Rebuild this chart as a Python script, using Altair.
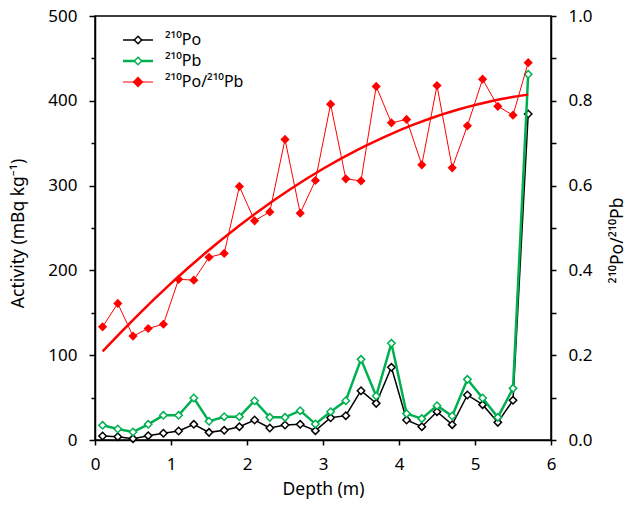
import altair as alt
import pandas as pd

depth = [0.1, 0.3, 0.5, 0.7, 0.9, 1.1, 1.3, 1.5, 1.7, 1.9, 2.1, 2.3, 2.5, 2.7, 2.9,
         3.1, 3.3, 3.5, 3.7, 3.9, 4.1, 4.3, 4.5, 4.7, 4.9, 5.1, 5.3, 5.5, 5.7]
po = [4.7, 3.9, 1.6, 5.1, 7.9, 10.6, 18.5, 9.0, 11.4, 15.7, 23.6, 14.2, 17.7, 18.5, 11.0,
      26.3, 28.7, 58.1, 43.2, 85.7, 23.6, 15.7, 33.4, 18.1, 53.1, 41.7, 20.8, 46.8, 384.4]
pb = [17.3, 13.0, 9.4, 18.5, 29.1, 29.1, 49.5, 22.0, 27.5, 27.5, 46.3, 26.7, 26.7, 34.6, 18.9,
      33.4, 46.3, 95.1, 51.9, 114.0, 31.1, 25.2, 40.5, 28.3, 71.5, 49.5, 26.7, 60.9, 431.2]
ratio = [0.267, 0.322, 0.245, 0.263, 0.273, 0.379, 0.377, 0.431, 0.440, 0.598, 0.517, 0.538,
         0.709, 0.535, 0.612, 0.792, 0.616, 0.611, 0.834, 0.748, 0.756, 0.649, 0.836, 0.642,
         0.741, 0.851, 0.787, 0.766, 0.890]

legend_labels = ["\u00b2\u00b9\u2070Po", "\u00b2\u00b9\u2070Pb", "\u00b2\u00b9\u2070Po/\u00b2\u00b9\u2070Pb"]
x_ticks = [0, 1, 2, 3, 4, 5, 6]
left_ticks = [0, 50, 100, 150, 200, 250, 300, 350, 400, 450, 500]
right_ticks = [0.0, 0.1, 0.2, 0.3, 0.4, 0.5, 0.6, 0.7, 0.8, 0.9, 1.0]

FONT = "Noto Sans"
BLACK = "#000000"
GREEN = "#00B050"
RED = "#FF0000"

df = pd.DataFrame({"depth": depth, "po": po, "pb": pb, "ratio": ratio})
base = alt.Chart(df)

x_enc = alt.X("depth:Q",
              scale=alt.Scale(domain=[0, 6], nice=False),
              axis=alt.Axis(values=x_ticks, title="Depth (m)", tickSize=5, labelFlush=False,
                            labelPadding=11, titlePadding=8))

left_axis = alt.Axis(values=left_ticks, orient="left",
                     title="Activity  (mBq kg\u207b\u00b9)",
                     labelExpr="datum.value % 100 === 0 ? datum.label : ''",
                     tickSize={"condition": {"test": "datum.value % 100 === 0", "value": 6}, "value": 4},
                     labelPadding=12, titleX=-77, titleY=217, titleAngle=-90,
                     titleAlign="center", titleBaseline="middle")
left_scale = alt.Scale(domain=[0, 500], nice=False)

right_axis = alt.Axis(values=right_ticks, orient="right",
                      title="\u00b2\u00b9\u2070Po/\u00b2\u00b9\u2070Pb",
                      labelExpr="round(datum.value*10) % 2 === 0 ? format(datum.value, '.1f') : ''",
                      tickSize=5, labelPadding=12, titleX=66, titleY=224, titleAngle=-90,
                      titleAlign="center", titleBaseline="middle")
right_scale = alt.Scale(domain=[0, 1], nice=False)

po_line = base.mark_line(color=BLACK, strokeWidth=1.5).encode(
    x=x_enc, y=alt.Y("po:Q", scale=left_scale, axis=left_axis))
po_pts = base.mark_point(shape="diamond", filled=True, fill="white", stroke=BLACK,
                         strokeWidth=1.5, size=55, opacity=1).encode(
    x=x_enc, y=alt.Y("po:Q", scale=left_scale, axis=left_axis))
pb_line = base.mark_line(color=GREEN, strokeWidth=2.5).encode(
    x=x_enc, y=alt.Y("pb:Q", scale=left_scale, axis=left_axis))
pb_pts = base.mark_point(shape="diamond", filled=True, fill="white", stroke=GREEN,
                         strokeWidth=1.5, size=55, opacity=1).encode(
    x=x_enc, y=alt.Y("pb:Q", scale=left_scale, axis=left_axis))
left = alt.layer(po_line, po_pts, pb_line, pb_pts)

r_line = base.mark_line(color=RED, strokeWidth=1).encode(
    x=x_enc, y=alt.Y("ratio:Q", scale=right_scale, axis=right_axis))
r_pts = base.mark_point(shape="diamond", filled=True, color=RED, size=85, opacity=1).encode(
    x=x_enc, y=alt.Y("ratio:Q", scale=right_scale, axis=right_axis))
r_fit = base.transform_regression("depth", "ratio", method="poly", order=2).mark_line(
    color=RED, strokeWidth=2.5).encode(
    x=x_enc, y=alt.Y("ratio:Q", scale=right_scale, axis=right_axis))
right = alt.layer(r_fit, r_line, r_pts)

# legend
leg_colors = [BLACK, GREEN, RED]
leg_fills = ["white", "white", RED]
leg_widths = [1.5, 2.5, 1]
leg_y = [24, 45, 66]
leg_layers = []
for lab, c, f, w, yy in zip(legend_labels, leg_colors, leg_fills, leg_widths, leg_y):
    d = alt.Chart(pd.DataFrame({"label": [lab]}))
    leg_layers.append(d.mark_rule(color=c, strokeWidth=w).encode(
        x=alt.value(28), x2=alt.value(58), y=alt.value(yy)))
    leg_layers.append(d.mark_point(shape="diamond", filled=True, fill=f, stroke=c,
                                   strokeWidth=1.5, size=55 if f == "white" else 75,
                                   opacity=1).encode(x=alt.value(43), y=alt.value(yy)))
    leg_layers.append(d.mark_text(align="left", baseline="middle", font=FONT, fontSize=16,
                                  color=BLACK).encode(
        x=alt.value(70), y=alt.value(yy), text="label:N"))

chart = alt.layer(left, right, *leg_layers).resolve_scale(y="independent").properties(
    width=456, height=424,
    autosize=alt.AutoSizeParams(type="none"),
    padding={"left": 95, "top": 16, "right": 76, "bottom": 66},
    background="white",
).configure_axis(
    labelFont=FONT, titleFont=FONT, labelFontSize=17, titleFontSize=17.5,
    titleFontWeight="normal", labelColor=BLACK, titleColor=BLACK,
    domainColor=BLACK, tickColor=BLACK, domainWidth=1.5, tickWidth=1.5, grid=False,
).configure_view(stroke=BLACK, strokeWidth=1.5)

chart.save("out.html", embed_options={"renderer": "svg", "actions": False})
